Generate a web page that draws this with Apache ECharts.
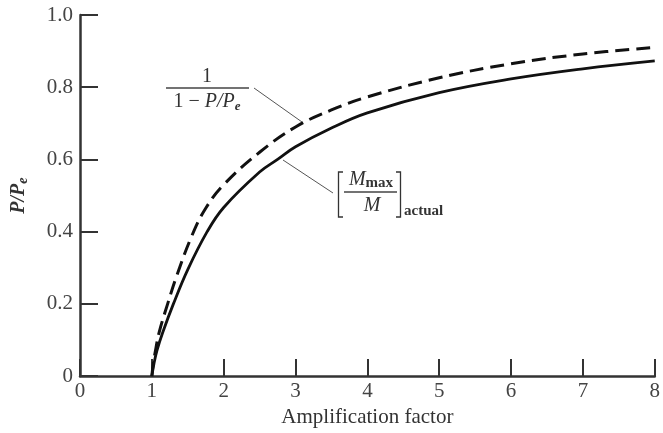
<!DOCTYPE html>
<html>
<head>
<meta charset="utf-8">
<script src="https://cdn.jsdelivr.net/npm/echarts@6/dist/echarts.min.js"></script>
<style>
  html, body { margin: 0; padding: 0; background: #fff; }
  #chart { width: 663px; height: 433px; }
</style>
</head>
<body>
<div id="chart"></div>
<script>
// values
var dashX = [1, 1.02, 1.05, 1.1, 1.22, 1.35, 1.56, 1.75, 2, 2.5, 3, 3.5, 4, 5, 6, 7, 8];
var dashY = [0, 0.035, 0.07, 0.12, 0.2, 0.28, 0.39, 0.465, 0.53, 0.62, 0.69, 0.737, 0.773, 0.826, 0.865, 0.892, 0.91];
var solidX = [1, 1.03, 1.07, 1.15, 1.3, 1.5, 1.77, 2, 2.5, 2.75, 3, 3.5, 4, 5, 6, 7, 8];
var solidY = [0, 0.035, 0.07, 0.12, 0.2, 0.295, 0.4, 0.467, 0.565, 0.6, 0.635, 0.687, 0.729, 0.785, 0.823, 0.851, 0.873];
var yTickLabels = ['0', '0.2', '0.4', '0.6', '0.8', '1.0'];

var serif = '"Liberation Serif", "DejaVu Serif", serif';

function pairs(xs, ys) {
    return xs.map(function (x, i) { return [x, ys[i]]; });
}

var chart = echarts.init(document.getElementById('chart'), null, { renderer: 'canvas' });

var option = {
    animation: false,
    grid: { left: 79, right: 1, top: 15, bottom: 56 },
    xAxis: {
        type: 'value',
        min: 0,
        max: 8,
        interval: 1,
        name: 'Amplification factor',
        nameLocation: 'middle',
        nameGap: 26,
        nameTextStyle: { fontFamily: serif, fontSize: 21, color: '#333' },
        axisLine: { lineStyle: { color: '#333', width: 2.5 } },
        axisTick: { inside: true, length: 17, lineStyle: { color: '#333', width: 2 } },
        axisLabel: { fontFamily: serif, fontSize: 21, color: '#444', margin: 5 },
        splitLine: { show: false }
    },
    yAxis: {
        type: 'value',
        min: 0,
        max: 1,
        interval: 0.2,
        name: '{i|P/P}{s|e}',
        nameLocation: 'middle',
        nameRotate: 90,
        nameGap: 50,
        nameTextStyle: {
            rich: {
                i: { fontFamily: serif, fontSize: 20, fontStyle: 'italic', fontWeight: 'bold', color: '#333', lineHeight: 22 },
                s: { fontFamily: serif, fontSize: 14, fontStyle: 'italic', fontWeight: 'bold', color: '#333', padding: [8, 0, 0, 0], lineHeight: 22 }
            }
        },
        axisLine: { show: true, lineStyle: { color: '#333', width: 2.5 } },
        axisTick: { show: true, inside: true, length: 18, lineStyle: { color: '#333', width: 2 } },
        axisLabel: {
            fontFamily: serif, fontSize: 21, color: '#444', margin: 7,
            formatter: function (v) { return yTickLabels[Math.round(v / 0.2)]; }
        },
        splitLine: { show: false }
    },
    series: [{
        name: 'dashed',
        type: 'line',
        smooth: 0.4,
        symbol: 'none',
        lineStyle: { color: '#111', width: 3, type: [14, 7] },
        data: pairs(dashX, dashY)
    }, {
        name: 'solid',
        type: 'line',
        smooth: 0.4,
        symbol: 'none',
        lineStyle: { color: '#111', width: 2.8 },
        data: pairs(solidX, solidY)
    }],
    graphic: [
        // 1 / (1 - P/Pe)
        { type: 'text', style: { text: '1', x: 207, y: 77, font: '20px ' + serif, fill: '#333', align: 'center', verticalAlign: 'middle' } },
        { type: 'line', shape: { x1: 166, y1: 88, x2: 249, y2: 88 }, style: { stroke: '#444', lineWidth: 1.3 } },
        {
            type: 'text',
            style: {
                text: '{n|1 − }{i|P/P}{s|e}', x: 207, y: 102, align: 'center', verticalAlign: 'middle',
                rich: {
                    n: { font: '20px ' + serif, fill: '#333' },
                    i: { font: 'italic 20px ' + serif, fill: '#333' },
                    s: { font: 'italic bold 13px ' + serif, fill: '#333', padding: [9, 0, 0, 0] }
                }
            }
        },
        { type: 'line', shape: { x1: 254, y1: 88, x2: 302, y2: 122 }, style: { stroke: '#555', lineWidth: 1 } },
        // [Mmax / M]actual
        { type: 'line', shape: { x1: 283, y1: 160, x2: 333, y2: 193 }, style: { stroke: '#555', lineWidth: 1 } },
        { type: 'polyline', shape: { points: [[343, 172], [338.5, 172], [338.5, 217], [343, 217]] }, style: { stroke: '#333', lineWidth: 1.3, fill: null } },
        { type: 'polyline', shape: { points: [[396, 172], [400.5, 172], [400.5, 217], [396, 217]] }, style: { stroke: '#333', lineWidth: 1.3, fill: null } },
        {
            type: 'text',
            style: {
                text: '{i|M}{s|max}', x: 371, y: 180, align: 'center', verticalAlign: 'middle',
                rich: {
                    i: { font: 'italic 20px ' + serif, fill: '#333' },
                    s: { font: 'bold 15px ' + serif, fill: '#333', padding: [6, 0, 0, 0] }
                }
            }
        },
        { type: 'line', shape: { x1: 344, y1: 192, x2: 397, y2: 192 }, style: { stroke: '#444', lineWidth: 1.3 } },
        { type: 'text', style: { text: 'M', x: 372, y: 206, font: 'italic 20px ' + serif, fill: '#333', align: 'center', verticalAlign: 'middle' } },
        { type: 'text', style: { text: 'actual', x: 404, y: 211, font: 'bold 15px ' + serif, fill: '#333', align: 'left', verticalAlign: 'middle' } }
    ]
};

chart.setOption(option);
</script>
</body>
</html>
